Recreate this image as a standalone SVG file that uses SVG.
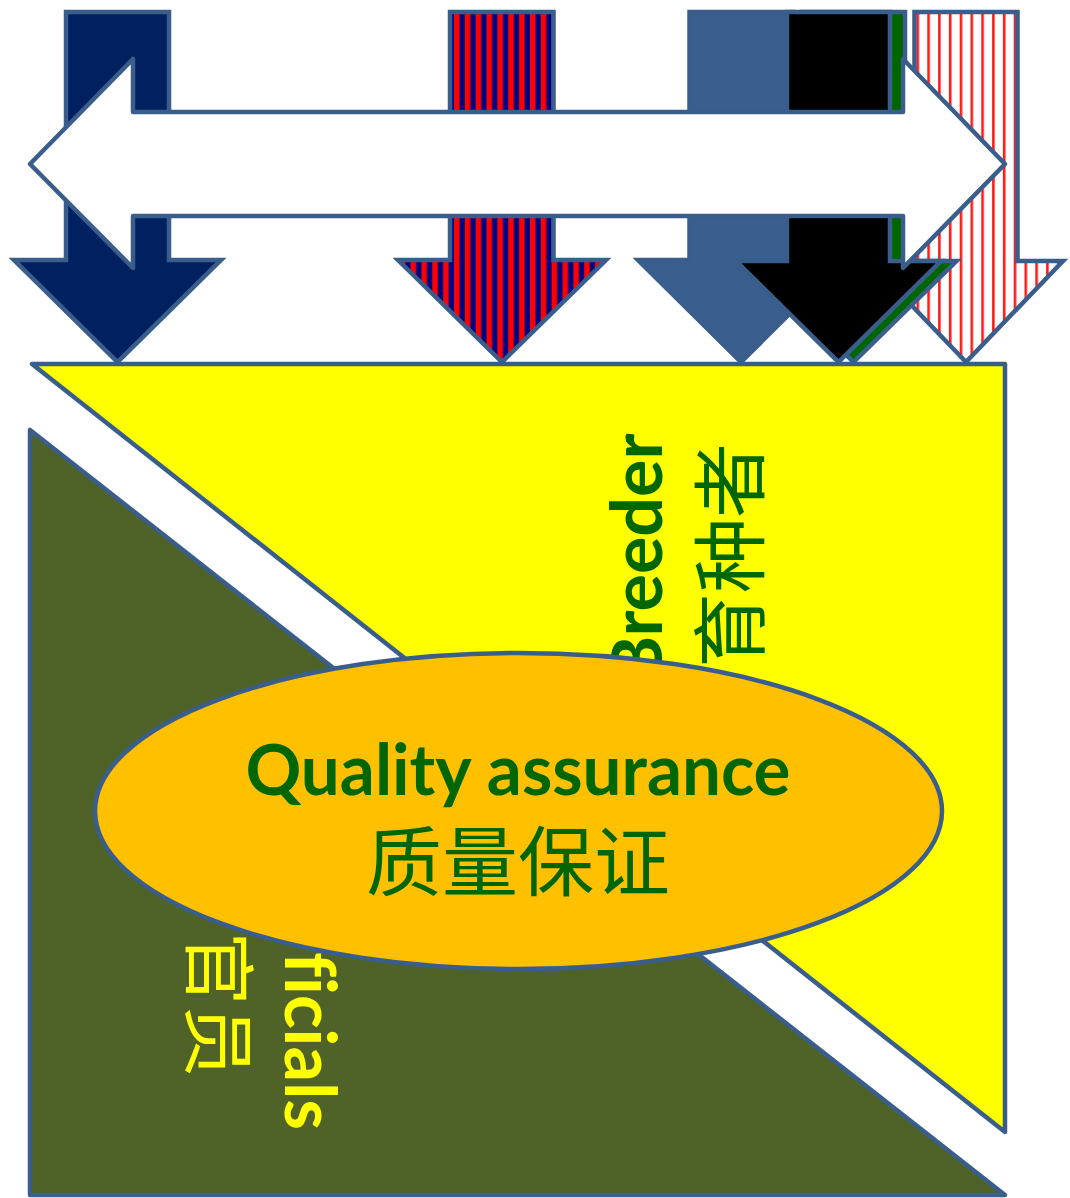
<svg xmlns="http://www.w3.org/2000/svg" width="1070" height="1198" viewBox="0 0 1070 1198">
<defs>
<pattern id="stripeRN" patternUnits="userSpaceOnUse" x="454" y="0" width="10.85" height="20">
<rect width="10.85" height="20" fill="#000080"/>
<rect width="5.5" height="20" fill="#FF0000"/>
</pattern>
<pattern id="hatchR" patternUnits="userSpaceOnUse" x="916.5" y="0" width="10.8" height="20">
<rect width="10.8" height="20" fill="#FFFFFF"/>
<rect width="2.6" height="20" fill="#FF1A1A"/>
</pattern>
<style>
.ol{stroke:#3A5E8C;stroke-width:4.5;}
.dn{stroke-linejoin:miter;stroke-miterlimit:10;}
.rj{stroke-linejoin:round;}
.en{font-family:Lato,"Liberation Sans",sans-serif;font-weight:bold;font-size:70px;font-variant-ligatures:none;font-feature-settings:"liga" 0;}
.cn{font-family:"Noto Sans CJK SC",sans-serif;font-weight:normal;}
.grn{fill:#006600;}
.yel{fill:#FFFF00;}
</style>
</defs>
<rect width="1070" height="1198" fill="#FFFFFF"/>

<g id="officials-triangle">
<polygon class="ol rj" points="30,430 30,1195 1005,1195" fill="#4F6228"/>
<text class="en yel" transform="translate(285,952) rotate(90)">ficials</text>
<text class="cn yel" font-size="73" transform="translate(192,932) rotate(90)">官员</text>
</g>

<g id="breeder-triangle">
<polygon class="ol rj" points="32,364 1005,364 1005,1132" fill="#FFFF00"/>
<text class="en grn" transform="translate(662,682) rotate(-90)">Breeder</text>
<text class="cn grn" font-size="75" transform="translate(758,668) rotate(-90)">育种者</text>
</g>

<g id="quality-assurance">
<ellipse class="ol" cx="518.5" cy="811" rx="423.5" ry="158" fill="#FFC000"/>
<text class="en grn" x="518" y="795" text-anchor="middle" textLength="545" lengthAdjust="spacingAndGlyphs">Quality assurance</text>
<text class="cn grn" x="518" y="890" font-size="76" text-anchor="middle">质量保证</text>
</g>

<g id="connectors">
<g id="arrow-navy"><polygon class="ol dn" fill="#002060" points="66,12 169,12 169,260 221,260 117.5,362 14,260 66,260"/></g>
<g id="arrow-striped"><polygon class="ol dn" fill="url(#stripeRN)" points="450,12 553.5,12 553.5,260 606,260 502,362 398,260 450,260"/></g>
<g id="arrow-steel"><polygon class="ol dn" fill="#3A5F8E" points="689.5,12 793,12 793,260 844,260 741,362 638,260 689.5,260"/></g>
<g id="arrow-hatched"><polygon class="ol dn" fill="url(#hatchR)" points="914.5,12 1017.5,12 1017.5,261 1063,261 966,362 869,261 914.5,261"/></g>
<g id="arrow-green"><polygon class="ol dn" fill="#006600" points="802,12 905,12 905,261 956.5,261 853.5,362 750.5,261 802,261"/></g>
<g id="arrow-black"><polygon class="ol dn" fill="#000000" points="787,12 890,12 890,261 941,261 838.5,362 736,261 787,261"/></g>
<g id="arrow-double"><polygon class="ol rj" fill="#FFFFFF" points="30,164 133,59 133,112 903,112 903,59 1005,164 903,268 903,216 133,216 133,268"/></g>
</g>
</svg>
